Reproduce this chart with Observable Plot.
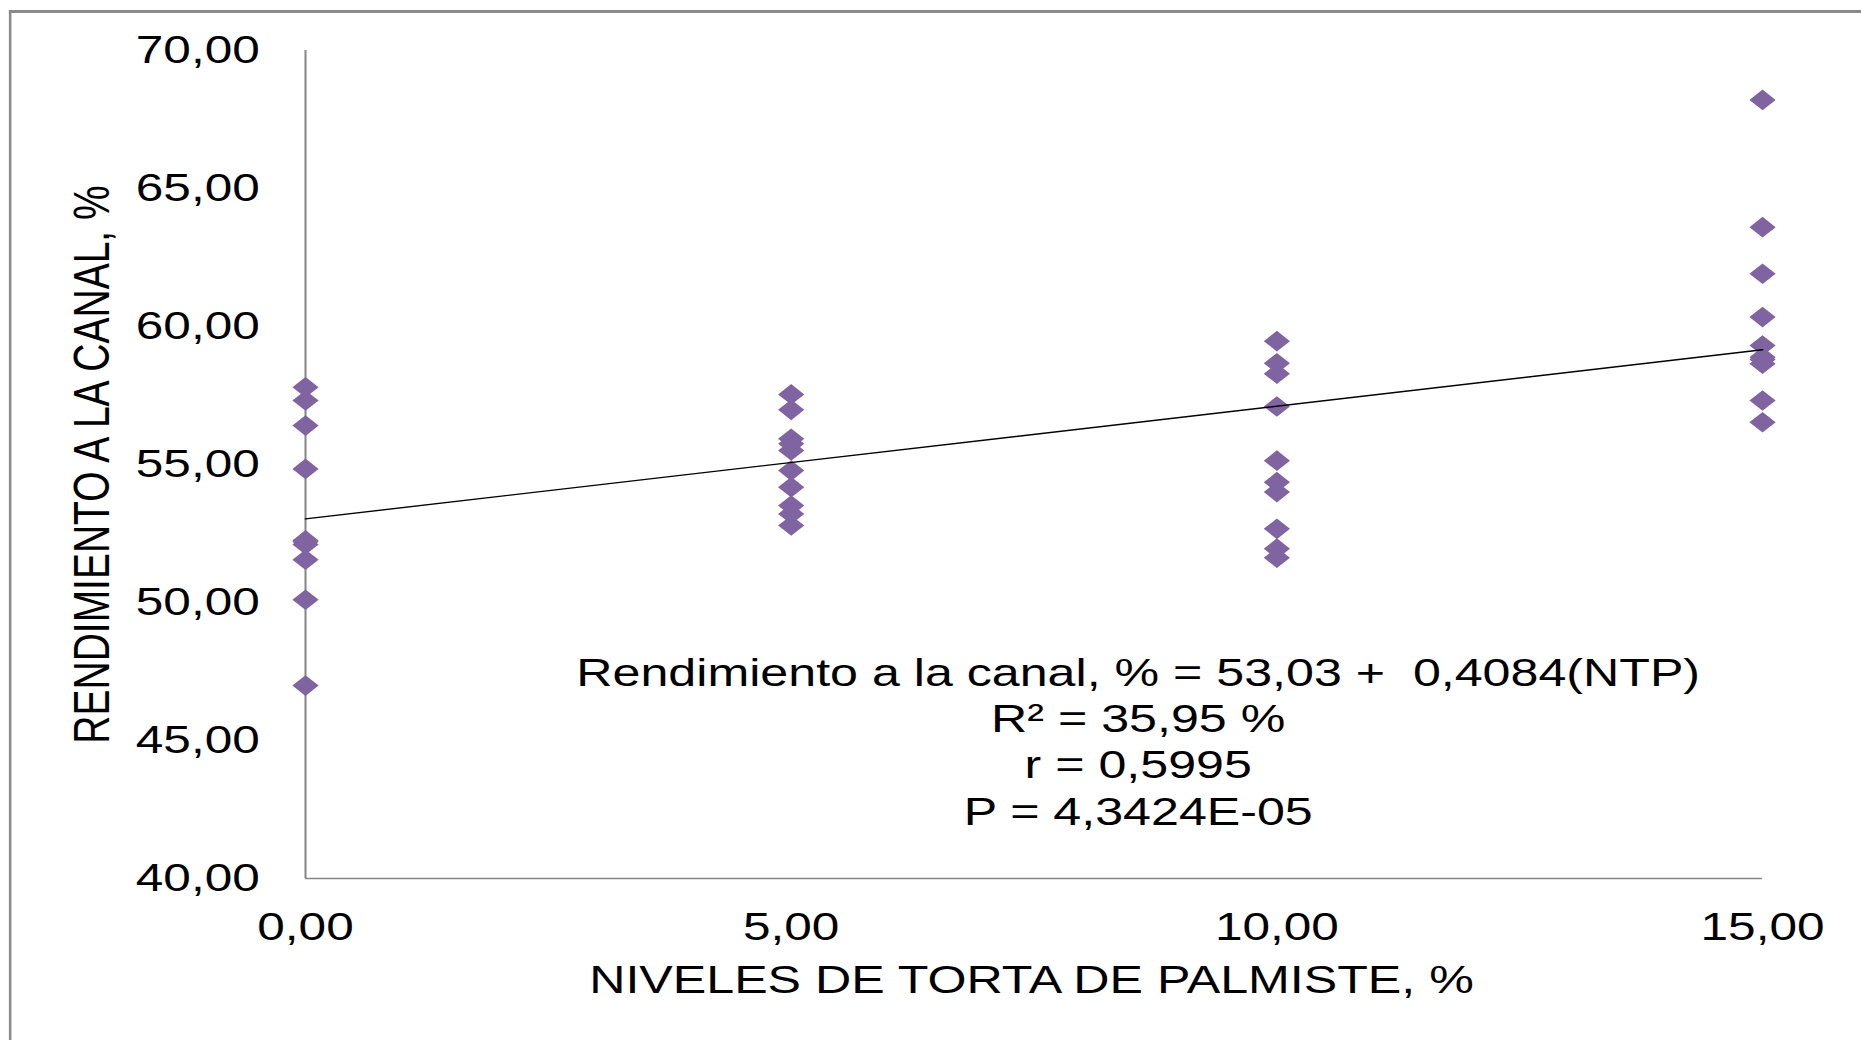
<!DOCTYPE html>
<html>
<head>
<meta charset="utf-8">
<script src="https://cdn.jsdelivr.net/npm/d3@7"></script>
<script src="https://cdn.jsdelivr.net/npm/@observablehq/plot@0.6"></script>
<style>
  html, body { margin: 0; padding: 0; background: #fff; overflow: hidden; }
  #wrap { position: relative; width: 1465px; height: 1040px; transform: scaleX(1.2703); transform-origin: 0 0; }
  #frame { position: absolute; left: 7px; top: 10px; width: 2000px; height: 2000px;
           border-top: 3px solid #8a8a8a; border-left: 2.4px solid #8a8a8a; box-sizing: border-box; }
  #chart { position: absolute; left: 0; top: 0; }
</style>
</head>
<body>
<div id="wrap"><div id="frame"></div><div id="chart"></div></div>
<script>
// Niveles de torta de palmiste (%)
const niveles = [0, 5, 10, 15];
// Rendimiento a la canal (%) por nivel
const rend0  = [57.80, 57.32, 56.41, 54.84, 52.25, 52.20, 52.10, 51.55, 50.10, 46.99];
const rend5  = [57.54, 56.98, 55.93, 55.75, 55.51, 54.78, 54.18, 53.51, 53.21, 52.79];
const rend10 = [59.47, 58.67, 58.29, 57.10, 55.14, 54.36, 54.00, 52.67, 51.95, 51.62];
const rend15 = [68.21, 63.60, 61.91, 60.34, 59.31, 58.89, 58.80, 58.65, 57.32, 56.53];
// Regresión
const intercepto = 53.03;
const pendiente = 0.4084;
// Ticks
const xTicks = [0, 5, 10, 15];
const yTicks = [40, 45, 50, 55, 60, 65, 70];
// Textos
const tituloX = "NIVELES DE TORTA DE PALMISTE, %";
const tituloY = "RENDIMIENTO A LA CANAL, %";
const ecuacion = [
  "Rendimiento a la canal, % = 53,03 +  0,4084(NTP)",
  "R² = 35,95 %",
  "r = 0,5995",
  "P = 4,3424E-05"
];

const grupos = [rend0, rend5, rend10, rend15];
const puntos = niveles.flatMap((n, i) => grupos[i].map(v => ({x: n, y: v})));
const xExt = d3.extent(niveles);
const linea = xExt.map(x => ({x, y: intercepto + pendiente * x}));
const fmt = d => d.toFixed(2).replace(".", ",");

const chart = Plot.plot({
  width: 1465,
  height: 1040,
  marginLeft: 240,
  marginRight: 78,
  marginTop: 50,
  marginBottom: 162,
  style: {fontFamily: "'Liberation Sans', Arial, sans-serif", fontSize: "39px", color: "#000", background: "transparent"},
  x: {domain: [0, 15]},
  y: {domain: [40, 70]},
  marks: [
    Plot.ruleX([0], {stroke: "#868686", strokeWidth: 1.6}),
    Plot.ruleY([40], {stroke: "#868686", strokeWidth: 1.6}),
    Plot.axisX({ticks: xTicks, tickFormat: fmt, tickSize: 0, tickPadding: 34, label: null, fontSize: 39}),
    Plot.axisY({ticks: yTicks, tickFormat: fmt, tickSize: 0, tickPadding: 36, label: null, fontSize: 39}),
    Plot.dot(puntos, {x: "x", y: "y", symbol: "diamond2", r: 9.3, fill: "#8064A2", stroke: "none"}),
    Plot.line(linea, {x: "x", y: "y", stroke: "#000", strokeWidth: 1.4}),
    Plot.text([tituloX], {text: d => d, frameAnchor: "bottom", dx: -2, dy: 102, lineAnchor: "middle", textAnchor: "middle", fontSize: 39.5, fill: "#000"}),
    Plot.text([tituloY], {text: d => d, frameAnchor: "left", dx: -167, rotate: -90, lineAnchor: "middle", textAnchor: "middle", fontSize: 39, fill: "#000"}),
    Plot.text([ecuacion.join("\n")], {text: d => d, frameAnchor: "bottom", dx: 82, dy: -138, lineAnchor: "middle", textAnchor: "middle", lineHeight: 1.17, fontSize: 39.5, fill: "#000"})
  ]
});
document.getElementById("chart").appendChild(chart);
</script>
</body>
</html>
